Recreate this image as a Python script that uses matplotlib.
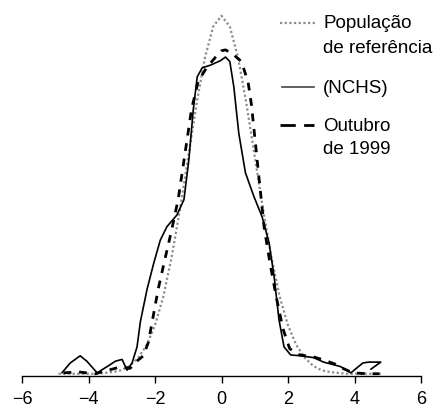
import matplotlib
matplotlib.use("Agg")
import matplotlib.pyplot as plt
from matplotlib.lines import Line2D

plt.rcParams['font.family'] = ['Liberation Sans', 'DejaVu Sans']

# Reference population (NCHS) density curve
ref_x = [-4.9, -4.5, -4.0, -3.75, -3.5, -3.25, -3.0, -2.75, -2.5, -2.25, -2.0, -1.75,
         -1.5, -1.25, -1.0, -0.75, -0.5, -0.25, 0.0, 0.25, 0.5, 0.75, 1.0, 1.25,
         1.5, 1.75, 2.0, 2.25, 2.5, 2.75, 3.0, 3.25, 3.5, 3.75, 4.0, 4.5, 4.8]
ref_y = [0.0, 0.0, 0.0, 0.0, 0.001, 0.002, 0.004, 0.009, 0.018, 0.032, 0.054, 0.086,
         0.130, 0.183, 0.242, 0.301, 0.352, 0.387, 0.399, 0.387, 0.352, 0.301, 0.242, 0.183,
         0.130, 0.086, 0.054, 0.032, 0.018, 0.009, 0.004, 0.002, 0.001, 0.0, 0.0, 0.0, 0.0]

# Solid curve
solid_x = [-4.80, -4.55, -4.25, -4.05, -3.74, -3.44, -3.19, -2.99, -2.84, -2.69, -2.54,
           -2.44, -2.24, -2.04, -1.84, -1.64, -1.34, -1.13, -0.98, -0.85, -0.73, -0.58,
           -0.33, -0.03, 0.12, 0.25, 0.37, 0.52, 0.72, 0.97, 1.22, 1.43, 1.58, 1.73,
           1.88, 2.08, 2.38, 2.77, 3.07, 3.58, 3.89, 4.25, 4.43, 4.79, 4.49]
solid_y = [0.001, 0.012, 0.020, 0.014, 0.001, 0.008, 0.014, 0.016, 0.004, 0.012, 0.030,
           0.058, 0.094, 0.123, 0.149, 0.164, 0.177, 0.194, 0.239, 0.294, 0.331, 0.341,
           0.344, 0.349, 0.353, 0.348, 0.320, 0.268, 0.224, 0.198, 0.175, 0.146, 0.109, 0.060,
           0.030, 0.021, 0.020, 0.018, 0.013, 0.008, 0.001, 0.012, 0.013, 0.013, 0.005]

# Dashed curve: Outubro de 1999
dash_x = [-4.75, -4.3, -3.8, -3.3, -3.0, -2.75, -2.55, -2.35, -2.2, -2.05, -1.9, -1.7,
          -1.5, -1.3, -1.1, -0.9, -0.7, -0.45, -0.2, 0.0, 0.12, 0.35, 0.6, 0.8, 0.9,
          1.07, 1.28, 1.45, 1.65, 1.85, 2.05, 2.35, 2.75, 3.1, 3.4, 3.65, 3.95, 4.4, 4.75]
dash_y = [0.001, 0.002, 0.000, 0.005, 0.008, 0.006, 0.014, 0.020, 0.035, 0.065, 0.095, 0.128,
          0.160, 0.195, 0.245, 0.295, 0.326, 0.341, 0.352, 0.360, 0.361, 0.356, 0.348, 0.325, 0.300,
          0.239, 0.164, 0.125, 0.085, 0.050, 0.028, 0.021, 0.019, 0.015, 0.011, 0.006, 0.001, 0.000, 0.000]

x_ticks = [-6, -4, -2, 0, 2, 4, 6]

W, H = 440, 408
fig = plt.figure(figsize=(W / 100, H / 100), dpi=100)
ax = fig.add_axes([22 / W, 32 / H, (421 - 22) / W, (376 - 5) / H])

ax.plot(ref_x, ref_y, color='#8c8c8c', lw=1.6, linestyle=(0, (1.0, 1.1)), zorder=2)
ax.plot(solid_x, solid_y, color='black', lw=1.2, zorder=3,
        solid_joinstyle='round', solid_capstyle='round')
ax.plot(dash_x, dash_y, color='black', lw=2.0, linestyle=(0, (2.8, 2.8)), zorder=4,
        dash_joinstyle='round')

ax.set_xlim(-6, 6)
ax.set_ylim(-0.0025, 0.411)
ax.set_xticks(x_ticks)
ax.set_xticklabels([str(v).replace('-', '\u2212') for v in x_ticks])
for s in ['left', 'top', 'right']:
    ax.spines[s].set_visible(False)
ax.spines['bottom'].set_linewidth(1.0)
ax.set_yticks([])
ax.tick_params(axis='x', direction='out', length=5, width=1.0, pad=6, labelsize=13)

# Legend (drawn manually to match layout)
def fx(px):
    return px / W

def fy(py):
    return 1 - py / H

fig.add_artist(Line2D([fx(280), fx(315)], [fy(23), fy(23)], color='#8c8c8c', lw=1.6,
                      linestyle=(0, (1.0, 1.1))))
fig.add_artist(Line2D([fx(282), fx(314)], [fy(87), fy(87)], color='#444444', lw=1.2))
fig.add_artist(Line2D([fx(280), fx(314)], [fy(125), fy(125)], color='black', lw=2.0,
                      linestyle=(0, (5.5, 3.0))))

fs = 13.5
tx = fx(323)
fig.text(tx, fy(28.5), 'População', fontsize=fs, va='baseline', ha='left')
fig.text(tx, fy(53), 'de referência', fontsize=fs, va='baseline', ha='left')
fig.text(tx, fy(93), '(NCHS)', fontsize=fs, va='baseline', ha='left')
fig.text(tx, fy(131), 'Outubro', fontsize=fs, va='baseline', ha='left')
fig.text(tx, fy(154.5), 'de 1999', fontsize=fs, va='baseline', ha='left')

fig.savefig('out.png', dpi=100)
